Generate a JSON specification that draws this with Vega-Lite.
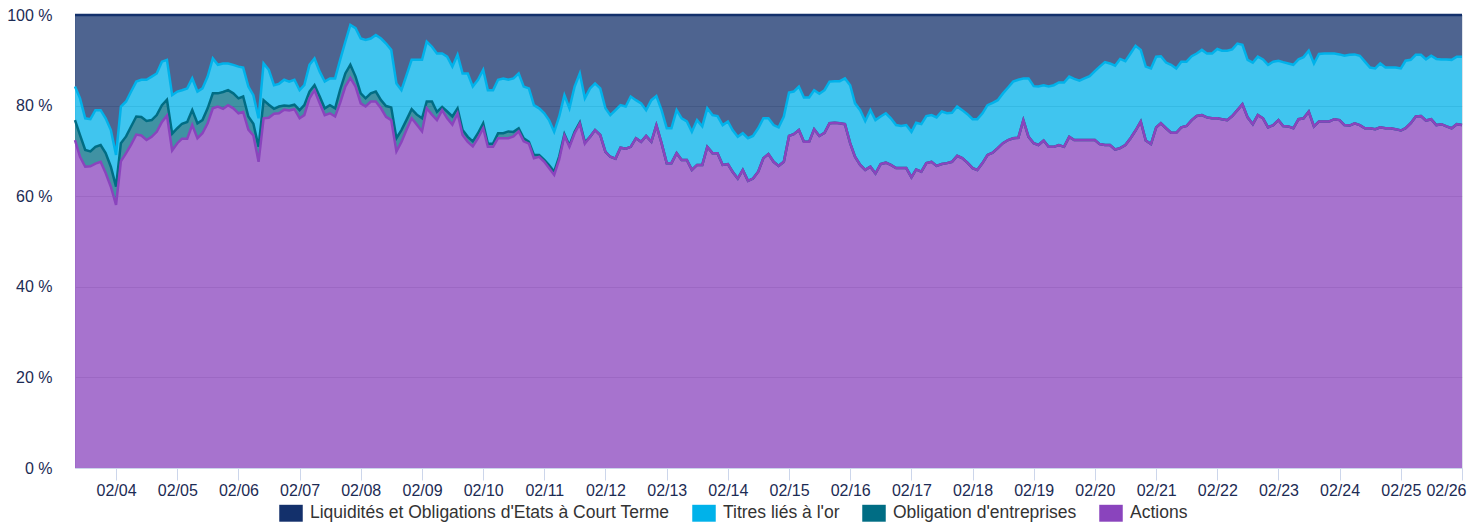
{
"$schema": "https://vega.github.io/schema/vega-lite/v6.json",
"width": 1387, "height": 453,
"autosize": {"type": "none"},
"padding": {"left": 75, "top": 15, "right": 20, "bottom": 54},
"background": "white",
"config": {"font": "Liberation Sans", "view": {"stroke": "#dde2ea"}},
"datasets": {
"cats": [
{"key": "L", "name": "Liquidités et Obligations d'Etats à Court Terme", "rank": 4},
{"key": "G", "name": "Titres liés à l'or", "rank": 3},
{"key": "O", "name": "Obligation d'entreprises", "rank": 2},
{"key": "A", "name": "Actions", "rank": 1}
],
"alloc": [
{"d":"2003-06-01","L":15.8,"G":7.4,"O":4.4,"A":72.4},
{"d":"2003-07-01","L":18.4,"G":8.1,"O":4.8,"A":68.7},
{"d":"2003-08-01","L":22.8,"G":7.0,"O":3.7,"A":66.5},
{"d":"2003-09-01","L":23.0,"G":7.1,"O":3.3,"A":66.6},
{"d":"2003-10-01","L":21.0,"G":8.1,"O":3.7,"A":67.2},
{"d":"2003-11-01","L":21.0,"G":7.7,"O":3.7,"A":67.6},
{"d":"2003-12-01","L":22.8,"G":7.7,"O":4.4,"A":65.1},
{"d":"2004-01-01","L":25.4,"G":8.1,"O":4.4,"A":62.1},
{"d":"2004-02-01","L":30.9,"G":7.0,"O":4.0,"A":58.1},
{"d":"2004-03-01","L":20.2,"G":8.1,"O":4.0,"A":67.7},
{"d":"2004-04-01","L":19.1,"G":7.7,"O":3.7,"A":69.5},
{"d":"2004-05-01","L":16.9,"G":7.7,"O":4.0,"A":71.4},
{"d":"2004-06-01","L":14.7,"G":7.7,"O":4.0,"A":73.6},
{"d":"2004-07-01","L":14.3,"G":8.2,"O":4.1,"A":73.4},
{"d":"2004-08-01","L":14.3,"G":9.1,"O":4.2,"A":72.4},
{"d":"2004-09-01","L":13.6,"G":9.6,"O":3.7,"A":73.1},
{"d":"2004-10-01","L":12.9,"G":9.2,"O":3.7,"A":74.2},
{"d":"2004-11-01","L":10.3,"G":9.6,"O":3.7,"A":76.4},
{"d":"2004-12-01","L":9.9,"G":8.8,"O":3.5,"A":77.8},
{"d":"2005-01-01","L":17.7,"G":8.5,"O":3.7,"A":70.1},
{"d":"2005-02-01","L":16.9,"G":8.1,"O":3.3,"A":71.7},
{"d":"2005-03-01","L":16.6,"G":7.4,"O":3.3,"A":72.7},
{"d":"2005-04-01","L":16.2,"G":7.4,"O":3.7,"A":72.7},
{"d":"2005-05-01","L":14.0,"G":7.0,"O":3.3,"A":75.7},
{"d":"2005-06-01","L":16.9,"G":7.0,"O":3.3,"A":72.8},
{"d":"2005-07-01","L":16.2,"G":7.0,"O":2.9,"A":73.9},
{"d":"2005-08-01","L":13.6,"G":7.0,"O":3.3,"A":76.1},
{"d":"2005-09-01","L":9.6,"G":7.7,"O":3.3,"A":79.4},
{"d":"2005-10-01","L":11.0,"G":6.3,"O":2.9,"A":79.8},
{"d":"2005-11-01","L":10.7,"G":6.3,"O":3.7,"A":79.3},
{"d":"2005-12-01","L":10.7,"G":5.9,"O":3.3,"A":80.1},
{"d":"2006-01-01","L":11.0,"G":6.3,"O":3.3,"A":79.4},
{"d":"2006-02-01","L":11.4,"G":7.0,"O":3.3,"A":78.3},
{"d":"2006-03-01","L":11.6,"G":6.4,"O":3.4,"A":78.6},
{"d":"2006-04-01","L":15.8,"G":6.6,"O":2.9,"A":74.7},
{"d":"2006-05-01","L":17.7,"G":6.3,"O":2.6,"A":73.4},
{"d":"2006-06-01","L":22.8,"G":6.3,"O":3.3,"A":67.6},
{"d":"2006-07-01","L":10.7,"G":8.1,"O":4.0,"A":77.2},
{"d":"2006-08-01","L":12.1,"G":7.7,"O":2.9,"A":77.3},
{"d":"2006-09-01","L":15.5,"G":5.2,"O":1.1,"A":78.2},
{"d":"2006-10-01","L":15.2,"G":5.0,"O":1.5,"A":78.3},
{"d":"2006-11-01","L":14.3,"G":5.7,"O":0.9,"A":79.1},
{"d":"2006-12-01","L":14.7,"G":5.4,"O":1.0,"A":78.9},
{"d":"2007-01-01","L":14.3,"G":5.5,"O":1.0,"A":79.2},
{"d":"2007-02-01","L":16.6,"G":4.4,"O":1.8,"A":77.2},
{"d":"2007-03-01","L":15.5,"G":4.4,"O":2.2,"A":77.9},
{"d":"2007-04-01","L":11.0,"G":5.9,"O":1.5,"A":81.6},
{"d":"2007-05-01","L":9.6,"G":5.9,"O":1.1,"A":83.4},
{"d":"2007-06-01","L":12.5,"G":5.5,"O":1.5,"A":80.5},
{"d":"2007-07-01","L":14.7,"G":5.9,"O":1.5,"A":77.9},
{"d":"2007-08-01","L":14.0,"G":5.9,"O":1.8,"A":78.3},
{"d":"2007-09-01","L":14.0,"G":6.6,"O":1.8,"A":77.6},
{"d":"2007-10-01","L":9.9,"G":6.6,"O":2.9,"A":80.6},
{"d":"2007-11-01","L":5.9,"G":7.0,"O":2.9,"A":84.2},
{"d":"2007-12-01","L":2.2,"G":8.8,"O":2.9,"A":86.1},
{"d":"2008-01-01","L":2.9,"G":10.7,"O":2.2,"A":84.2},
{"d":"2008-02-01","L":5.2,"G":12.1,"O":2.2,"A":80.5},
{"d":"2008-03-01","L":5.5,"G":12.9,"O":1.8,"A":79.8},
{"d":"2008-04-01","L":5.2,"G":12.1,"O":1.8,"A":80.9},
{"d":"2008-05-01","L":4.4,"G":12.5,"O":2.2,"A":80.9},
{"d":"2008-06-01","L":5.2,"G":13.6,"O":1.8,"A":79.4},
{"d":"2008-07-01","L":6.3,"G":13.8,"O":2.4,"A":77.5},
{"d":"2008-08-01","L":7.7,"G":12.7,"O":2.8,"A":76.8},
{"d":"2008-09-01","L":15.1,"G":12.1,"O":2.9,"A":69.9},
{"d":"2008-10-01","L":16.6,"G":8.8,"O":2.6,"A":72.0},
{"d":"2008-11-01","L":13.2,"G":9.9,"O":2.2,"A":74.7},
{"d":"2008-12-01","L":9.9,"G":10.9,"O":2.0,"A":77.2},
{"d":"2009-01-01","L":9.9,"G":12.1,"O":2.2,"A":75.8},
{"d":"2009-02-01","L":9.9,"G":12.9,"O":2.9,"A":74.3},
{"d":"2009-03-01","L":5.9,"G":13.2,"O":1.5,"A":79.4},
{"d":"2009-04-01","L":7.0,"G":12.1,"O":2.9,"A":78.0},
{"d":"2009-05-01","L":8.5,"G":12.9,"O":1.8,"A":76.8},
{"d":"2009-06-01","L":8.5,"G":11.8,"O":0.7,"A":79.0},
{"d":"2009-07-01","L":9.2,"G":12.1,"O":1.5,"A":77.2},
{"d":"2009-08-01","L":11.4,"G":11.0,"O":1.8,"A":75.8},
{"d":"2009-09-01","L":8.8,"G":11.8,"O":1.1,"A":78.3},
{"d":"2009-10-01","L":12.9,"G":12.5,"O":1.1,"A":73.5},
{"d":"2009-11-01","L":12.9,"G":14.0,"O":1.1,"A":72.0},
{"d":"2009-12-01","L":15.8,"G":12.1,"O":1.1,"A":71.0},
{"d":"2010-01-01","L":14.3,"G":11.8,"O":1.1,"A":72.8},
{"d":"2010-02-01","L":12.1,"G":11.8,"O":1.1,"A":75.0},
{"d":"2010-03-01","L":16.6,"G":11.8,"O":0.7,"A":70.9},
{"d":"2010-04-01","L":16.6,"G":11.8,"O":0.7,"A":70.9},
{"d":"2010-05-01","L":14.3,"G":11.8,"O":1.1,"A":72.8},
{"d":"2010-06-01","L":14.0,"G":12.1,"O":1.1,"A":72.8},
{"d":"2010-07-01","L":14.3,"G":11.4,"O":1.5,"A":72.8},
{"d":"2010-08-01","L":14.0,"G":11.8,"O":1.0,"A":73.2},
{"d":"2010-09-01","L":12.9,"G":12.1,"O":0.7,"A":74.3},
{"d":"2010-10-01","L":15.8,"G":11.4,"O":0.7,"A":72.1},
{"d":"2010-11-01","L":16.2,"G":11.8,"O":0.4,"A":71.6},
{"d":"2010-12-01","L":19.9,"G":11.0,"O":0.7,"A":68.4},
{"d":"2011-01-01","L":20.6,"G":10.3,"O":0.4,"A":68.7},
{"d":"2011-02-01","L":21.7,"G":10.3,"O":0.4,"A":67.6},
{"d":"2011-03-01","L":23.2,"G":9.9,"O":0.7,"A":66.2},
{"d":"2011-04-01","L":25.8,"G":8.8,"O":0.7,"A":64.7},
{"d":"2011-05-01","L":22.4,"G":8.8,"O":0.7,"A":68.1},
{"d":"2011-06-01","L":17.7,"G":8.6,"O":0.3,"A":73.4},
{"d":"2011-07-01","L":20.6,"G":8.2,"O":0.3,"A":70.9},
{"d":"2011-08-01","L":15.8,"G":10.0,"O":0.3,"A":73.9},
{"d":"2011-09-01","L":12.9,"G":10.8,"O":0.3,"A":76.0},
{"d":"2011-10-01","L":18.4,"G":9.7,"O":0.3,"A":71.6},
{"d":"2011-11-01","L":16.2,"G":10.7,"A":73.1},
{"d":"2011-12-01","L":15.1,"G":10.3,"A":74.6},
{"d":"2012-01-01","L":16.2,"G":10.3,"A":73.5},
{"d":"2012-02-01","L":20.6,"G":9.6,"A":69.8},
{"d":"2012-03-01","L":22.1,"G":9.2,"A":68.7},
{"d":"2012-04-01","L":21.0,"G":10.7,"A":68.3},
{"d":"2012-05-01","L":19.9,"G":9.4,"A":70.7},
{"d":"2012-06-01","L":20.2,"G":9.3,"A":70.5},
{"d":"2012-07-01","L":18.0,"G":11.1,"A":70.9},
{"d":"2012-08-01","L":18.8,"G":8.4,"A":72.8},
{"d":"2012-09-01","L":19.5,"G":8.5,"A":72.0},
{"d":"2012-10-01","L":21.0,"G":5.7,"A":73.3},
{"d":"2012-11-01","L":18.8,"G":9.2,"A":72.0},
{"d":"2012-12-01","L":17.9,"G":6.4,"A":75.7},
{"d":"2013-01-01","L":21.0,"G":7.3,"A":71.7},
{"d":"2013-02-01","L":25.0,"G":7.7,"A":67.3},
{"d":"2013-03-01","L":25.0,"G":7.7,"A":67.3},
{"d":"2013-04-01","L":21.0,"G":9.5,"A":69.5},
{"d":"2013-05-01","L":22.8,"G":9.2,"A":68.0},
{"d":"2013-06-01","L":23.5,"G":8.5,"A":68.0},
{"d":"2013-07-01","L":25.8,"G":8.4,"A":65.8},
{"d":"2013-08-01","L":23.2,"G":9.9,"A":66.9},
{"d":"2013-09-01","L":24.6,"G":8.5,"A":66.9},
{"d":"2013-10-01","L":20.6,"G":8.5,"A":70.9},
{"d":"2013-11-01","L":22.1,"G":8.4,"A":69.5},
{"d":"2013-12-01","L":22.3,"G":8.2,"A":69.5},
{"d":"2014-01-01","L":24.3,"G":8.8,"A":66.9},
{"d":"2014-02-01","L":23.5,"G":9.4,"A":67.1},
{"d":"2014-03-01","L":25.4,"G":9.2,"A":65.4},
{"d":"2014-04-01","L":26.9,"G":9.2,"A":63.9},
{"d":"2014-05-01","L":26.1,"G":8.1,"A":65.8},
{"d":"2014-06-01","L":27.2,"G":9.4,"A":63.4},
{"d":"2014-07-01","L":26.7,"G":9.4,"A":63.9},
{"d":"2014-08-01","L":25.0,"G":9.6,"A":65.4},
{"d":"2014-09-01","L":22.8,"G":8.8,"A":68.4},
{"d":"2014-10-01","L":22.8,"G":7.9,"A":69.3},
{"d":"2014-11-01","L":24.3,"G":8.1,"A":67.6},
{"d":"2014-12-01","L":24.8,"G":8.5,"A":66.7},
{"d":"2015-01-01","L":22.4,"G":10.0,"A":67.6},
{"d":"2015-02-01","L":17.1,"G":9.6,"A":73.3},
{"d":"2015-03-01","L":16.9,"G":9.4,"A":73.7},
{"d":"2015-04-01","L":15.8,"G":9.6,"A":74.6},
{"d":"2015-05-01","L":18.2,"G":9.8,"A":72.0},
{"d":"2015-06-01","L":18.2,"G":9.8,"A":72.0},
{"d":"2015-07-01","L":16.6,"G":8.6,"A":74.8},
{"d":"2015-08-01","L":17.4,"G":9.3,"A":73.3},
{"d":"2015-09-01","L":16.6,"G":9.4,"A":74.0},
{"d":"2015-10-01","L":14.7,"G":9.2,"A":76.1},
{"d":"2015-11-01","L":14.6,"G":9.2,"A":76.2},
{"d":"2015-12-01","L":14.6,"G":9.3,"A":76.1},
{"d":"2016-01-01","L":14.0,"G":10.1,"A":75.9},
{"d":"2016-02-01","L":15.5,"G":12.8,"A":71.7},
{"d":"2016-03-01","L":19.5,"G":11.8,"A":68.7},
{"d":"2016-04-01","L":21.0,"G":12.1,"A":66.9},
{"d":"2016-05-01","L":23.4,"G":10.8,"A":65.8},
{"d":"2016-06-01","L":21.0,"G":12.5,"A":66.5},
{"d":"2016-07-01","L":23.2,"G":11.8,"A":65.0},
{"d":"2016-08-01","L":22.4,"G":10.5,"A":67.1},
{"d":"2016-09-01","L":21.7,"G":10.9,"A":67.4},
{"d":"2016-10-01","L":22.8,"G":10.3,"A":66.9},
{"d":"2016-11-01","L":24.3,"G":9.5,"A":66.2},
{"d":"2016-12-01","L":24.5,"G":9.3,"A":66.2},
{"d":"2017-01-01","L":24.3,"G":9.5,"A":66.2},
{"d":"2017-02-01","L":25.8,"G":10.0,"A":64.2},
{"d":"2017-03-01","L":23.8,"G":10.3,"A":65.9},
{"d":"2017-04-01","L":24.1,"G":10.5,"A":65.4},
{"d":"2017-05-01","L":22.3,"G":10.4,"A":67.3},
{"d":"2017-06-01","L":22.1,"G":10.3,"A":67.6},
{"d":"2017-07-01","L":22.6,"G":10.7,"A":66.7},
{"d":"2017-08-01","L":21.3,"G":11.6,"A":67.1},
{"d":"2017-09-01","L":21.7,"G":11.0,"A":67.3},
{"d":"2017-10-01","L":21.6,"G":10.8,"A":67.6},
{"d":"2017-11-01","L":20.2,"G":10.9,"A":68.9},
{"d":"2017-12-01","L":21.0,"G":10.6,"A":68.4},
{"d":"2018-01-01","L":21.9,"G":10.7,"A":67.4},
{"d":"2018-02-01","L":23.0,"G":10.8,"A":66.2},
{"d":"2018-03-01","L":23.0,"G":11.2,"A":65.8},
{"d":"2018-04-01","L":21.7,"G":11.0,"A":67.3},
{"d":"2018-05-01","L":19.9,"G":11.0,"A":69.1},
{"d":"2018-06-01","L":19.4,"G":11.0,"A":69.6},
{"d":"2018-07-01","L":18.8,"G":10.6,"A":70.6},
{"d":"2018-08-01","L":17.3,"G":11.0,"A":71.7},
{"d":"2018-09-01","L":16.0,"G":11.6,"A":72.4},
{"d":"2018-10-01","L":14.7,"G":12.5,"A":72.8},
{"d":"2018-11-01","L":14.3,"G":12.8,"A":72.9},
{"d":"2018-12-01","L":14.0,"G":9.2,"A":76.8},
{"d":"2019-01-01","L":14.0,"G":12.9,"A":73.1},
{"d":"2019-02-01","L":15.7,"G":12.6,"A":71.7},
{"d":"2019-03-01","L":15.8,"G":12.9,"A":71.3},
{"d":"2019-04-01","L":15.5,"G":12.2,"A":72.3},
{"d":"2019-05-01","L":15.8,"G":13.3,"A":70.9},
{"d":"2019-06-01","L":15.5,"G":13.6,"A":70.9},
{"d":"2019-07-01","L":14.9,"G":13.8,"A":71.3},
{"d":"2019-08-01","L":14.9,"G":14.2,"A":70.9},
{"d":"2019-09-01","L":13.6,"G":13.3,"A":73.1},
{"d":"2019-10-01","L":14.1,"G":13.5,"A":72.4},
{"d":"2019-11-01","L":14.5,"G":13.1,"A":72.4},
{"d":"2019-12-01","L":14.0,"G":13.6,"A":72.4},
{"d":"2020-01-01","L":13.5,"G":14.1,"A":72.4},
{"d":"2020-02-01","L":12.4,"G":15.2,"A":72.4},
{"d":"2020-03-01","L":11.4,"G":17.1,"A":71.5},
{"d":"2020-04-01","L":10.4,"G":18.3,"A":71.3},
{"d":"2020-05-01","L":10.7,"G":18.0,"A":71.3},
{"d":"2020-06-01","L":11.2,"G":18.5,"A":70.3},
{"d":"2020-07-01","L":9.7,"G":19.7,"A":70.6},
{"d":"2020-08-01","L":10.2,"G":18.5,"A":71.3},
{"d":"2020-09-01","L":8.5,"G":18.7,"A":72.8},
{"d":"2020-10-01","L":6.8,"G":18.7,"A":74.5},
{"d":"2020-11-01","L":7.7,"G":15.8,"A":76.5},
{"d":"2020-12-01","L":11.4,"G":16.3,"A":72.3},
{"d":"2021-01-01","L":11.8,"G":16.7,"A":71.5},
{"d":"2021-02-01","L":9.2,"G":15.6,"A":75.2},
{"d":"2021-03-01","L":9.1,"G":14.8,"A":76.1},
{"d":"2021-04-01","L":10.5,"G":14.5,"A":75.0},
{"d":"2021-05-01","L":11.0,"G":15.0,"A":74.0},
{"d":"2021-06-01","L":11.8,"G":14.2,"A":74.0},
{"d":"2021-07-01","L":10.3,"G":14.5,"A":75.2},
{"d":"2021-08-01","L":10.3,"G":14.2,"A":75.5},
{"d":"2021-09-01","L":9.1,"G":14.1,"A":76.8},
{"d":"2021-10-01","L":8.5,"G":13.8,"A":77.7},
{"d":"2021-11-01","L":7.7,"G":14.4,"A":77.9},
{"d":"2021-12-01","L":8.5,"G":14.1,"A":77.4},
{"d":"2022-01-01","L":8.5,"G":14.3,"A":77.2},
{"d":"2022-02-01","L":7.5,"G":15.3,"A":77.2},
{"d":"2022-03-01","L":7.9,"G":15.1,"A":77.0},
{"d":"2022-04-01","L":7.9,"G":15.3,"A":76.8},
{"d":"2022-05-01","L":7.6,"G":14.7,"A":77.7},
{"d":"2022-06-01","L":6.3,"G":14.7,"A":79.0},
{"d":"2022-07-01","L":6.6,"G":13.1,"A":80.3},
{"d":"2022-08-01","L":9.9,"G":12.7,"A":77.4},
{"d":"2022-09-01","L":10.5,"G":13.6,"A":75.9},
{"d":"2022-10-01","L":9.2,"G":12.9,"A":77.9},
{"d":"2022-11-01","L":9.8,"G":13.0,"A":77.2},
{"d":"2022-12-01","L":11.0,"G":13.8,"A":75.2},
{"d":"2023-01-01","L":10.3,"G":14.0,"A":75.7},
{"d":"2023-02-01","L":10.1,"G":13.1,"A":76.8},
{"d":"2023-03-01","L":10.4,"G":14.1,"A":75.5},
{"d":"2023-04-01","L":10.7,"G":13.9,"A":75.4},
{"d":"2023-05-01","L":11.0,"G":14.0,"A":75.0},
{"d":"2023-06-01","L":9.8,"G":13.2,"A":77.0},
{"d":"2023-07-01","L":9.3,"G":13.5,"A":77.2},
{"d":"2023-08-01","L":7.9,"G":13.4,"A":78.7},
{"d":"2023-09-01","L":10.7,"G":13.9,"A":75.4},
{"d":"2023-10-01","L":8.6,"G":14.9,"A":76.5},
{"d":"2023-11-01","L":8.5,"G":15.0,"A":76.5},
{"d":"2023-12-01","L":8.5,"G":15.0,"A":76.5},
{"d":"2024-01-01","L":8.5,"G":14.5,"A":77.0},
{"d":"2024-02-01","L":8.7,"G":14.5,"A":76.8},
{"d":"2024-03-01","L":9.0,"G":15.3,"A":75.7},
{"d":"2024-04-01","L":8.8,"G":15.6,"A":75.6},
{"d":"2024-05-01","L":8.7,"G":15.2,"A":76.1},
{"d":"2024-06-01","L":9.0,"G":15.3,"A":75.7},
{"d":"2024-07-01","L":10.3,"G":14.7,"A":75.0},
{"d":"2024-08-01","L":11.6,"G":13.4,"A":75.0},
{"d":"2024-09-01","L":11.8,"G":13.4,"A":74.8},
{"d":"2024-10-01","L":10.7,"G":14.1,"A":75.2},
{"d":"2024-11-01","L":11.6,"G":13.4,"A":75.0},
{"d":"2024-12-01","L":11.6,"G":13.4,"A":75.0},
{"d":"2025-01-01","L":11.6,"G":13.6,"A":74.8},
{"d":"2025-02-01","L":11.8,"G":13.7,"A":74.5},
{"d":"2025-03-01","L":10.1,"G":14.9,"A":75.0},
{"d":"2025-04-01","L":9.9,"G":14.0,"A":76.1},
{"d":"2025-05-01","L":8.8,"G":13.6,"A":77.6},
{"d":"2025-06-01","L":8.8,"G":13.5,"A":77.7},
{"d":"2025-07-01","L":9.8,"G":13.5,"A":76.7},
{"d":"2025-08-01","L":9.0,"G":14.0,"A":77.0},
{"d":"2025-09-01","L":9.7,"G":14.6,"A":75.7},
{"d":"2025-10-01","L":9.8,"G":14.3,"A":75.9},
{"d":"2025-11-01","L":9.8,"G":14.8,"A":75.4},
{"d":"2025-12-01","L":9.9,"G":15.1,"A":75.0},
{"d":"2026-01-01","L":9.2,"G":14.9,"A":75.9},
{"d":"2026-02-01","L":9.2,"G":15.1,"A":75.7}
]
},
"data": {"name": "alloc"},
"transform": [
{"fold": ["L", "G", "O", "A"], "as": ["key", "value"]},
{"filter": "isValid(datum.value)"},
{"lookup": "key", "from": {"data": {"name": "cats"}, "key": "key", "fields": ["name", "rank"]}}
],
"mark": {"type": "area", "fillOpacity": 0.75, "interpolate": "linear", "line": {"strokeWidth": 2.5}},
"encoding": {
"x": {"field": "d", "type": "temporal",
 "scale": {"type": "utc", "domain": [{"year": 2003, "month": 6, "date": 1, "utc": true}, {"year": 2026, "month": 2, "date": 1, "utc": true}]},
 "axis": {"title": null, "grid": false,
  "labelExpr": "utcFormat(datum.value, '%m/%y')",
  "values": [{"year":2004,"month":2,"date":1,"utc":true},{"year":2005,"month":2,"date":1,"utc":true},{"year":2006,"month":2,"date":1,"utc":true},{"year":2007,"month":2,"date":1,"utc":true},{"year":2008,"month":2,"date":1,"utc":true},{"year":2009,"month":2,"date":1,"utc":true},{"year":2010,"month":2,"date":1,"utc":true},{"year":2011,"month":2,"date":1,"utc":true},{"year":2012,"month":2,"date":1,"utc":true},{"year":2013,"month":2,"date":1,"utc":true},{"year":2014,"month":2,"date":1,"utc":true},{"year":2015,"month":2,"date":1,"utc":true},{"year":2016,"month":2,"date":1,"utc":true},{"year":2017,"month":2,"date":1,"utc":true},{"year":2018,"month":2,"date":1,"utc":true},{"year":2019,"month":2,"date":1,"utc":true},{"year":2020,"month":2,"date":1,"utc":true},{"year":2021,"month":2,"date":1,"utc":true},{"year":2022,"month":2,"date":1,"utc":true},{"year":2023,"month":2,"date":1,"utc":true},{"year":2024,"month":2,"date":1,"utc":true},{"year":2025,"month":2,"date":1,"utc":true},{"year":2026,"month":2,"date":1,"utc":true}],
  "labelFontSize": 16, "labelColor": "#1c2b54", "labelFont": "Liberation Sans",
  "tickColor": "#ccd6eb", "tickSize": 12, "domainColor": "#ccd6eb", "labelPadding": 2,
  "labelFlush": 5, "labelFlushOffset": 4, "labelOverlap": false}},
"y": {"field": "value", "type": "quantitative", "stack": "normalize",
 "scale": {"domain": [0, 1], "nice": false},
 "axis": {"title": null, "values": [0, 0.2, 0.4, 0.6, 0.8, 1],
  "labelExpr": "format(datum.value * 100, 'd') + ' %'",
  "grid": true, "gridColor": "#d4d4d4", "domain": false, "ticks": false, "tickSize": 0,
  "labelPadding": 23, "labelFontSize": 16, "labelColor": "#1c2b54", "labelFont": "Liberation Sans"}},
"color": {"field": "name", "type": "nominal",
 "scale": {"domain": ["Liquidités et Obligations d'Etats à Court Terme", "Titres liés à l'or", "Obligation d'entreprises", "Actions"],
  "range": ["#13306b", "#00b2ea", "#006d84", "#8a44bd"]},
 "legend": {"title": null, "orient": "none", "direction": "horizontal", "legendX": 204, "legendY": 486,
  "symbolType": "M-1,-0.72L1,-0.72L1,0.72L-1,0.72Z", "symbolSize": 552, "symbolStrokeWidth": 0, "symbolOpacity": 1,
  "labelFontSize": 17.5, "labelColor": "#333333", "labelFont": "Liberation Sans", "labelOffset": 7, "columnPadding": 22, "labelLimit": 600, "padding": 0,
  "encode": {"symbols": {"update": {"fillOpacity": {"value": 1}, "opacity": {"value": 1}}}}}},
"order": {"field": "rank", "type": "quantitative", "sort": "ascending"}
}
}
